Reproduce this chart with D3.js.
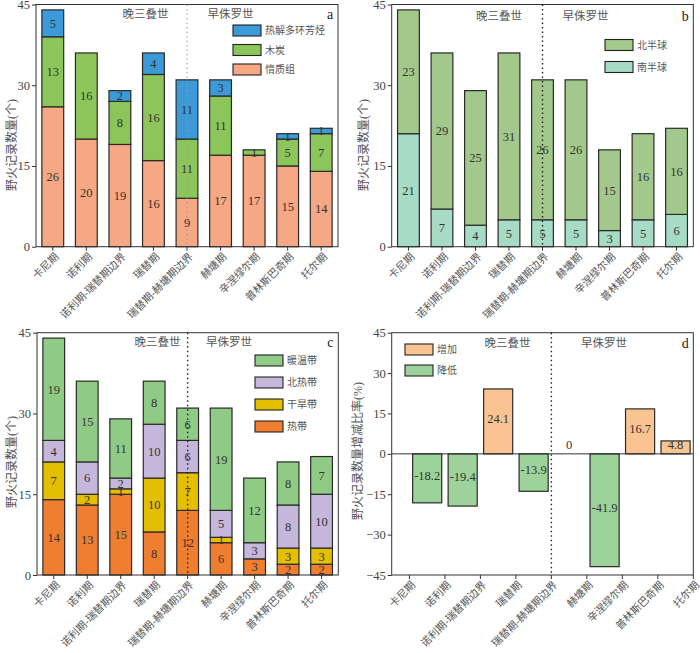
<!DOCTYPE html>
<html><head><meta charset="utf-8">
<script src="https://cdn.jsdelivr.net/npm/d3@7"></script>
<style>body{margin:0;background:#fff} svg{display:block}</style>
</head><body><svg id="chart" width="700" height="653"></svg>
<script>
// ---------- data ----------
const stages = ["卡尼期","诺利期","诺利期-瑞替期边界","瑞替期","瑞替期-赫塘期边界","赫塘期","辛涅缪尔期","普林斯巴奇期","托尔期"];
const eraLabels = ["晚三叠世","早侏罗世"];
const countTicks = [0,15,30,45];
const rateTicks = [-45,-30,-15,0,15,30,45];
const countTitle = "野火记录数量(个)";
const rateTitle = "野火记录数量增减比率(%)";

// panel a
const aSeries = ["惰质组","木炭","热解多环芳烃"];
const aInertinite = [26,20,19,16,9,17,17,15,14];
const aCharcoal   = [13,16,8,16,11,11,1,5,7];
const aPAH        = [5,0,2,4,11,3,0,1,1];
// panel b
const bSeries = ["南半球","北半球"];
const bSouth = [21,7,4,5,5,5,3,5,6];
const bNorth = [23,29,25,31,26,26,15,16,16];
// panel c
const cSeries = ["热带","干旱带","北热带","暖温带"];
const cTropical  = [14,13,15,8,12,6,3,2,2];
const cArid      = [7,2,1,10,7,1,0,3,3];
const cNTropical = [4,6,2,10,6,5,3,8,10];
const cWarm      = [19,15,11,8,6,19,12,8,7];
// panel d
const dSeries = ["增加","降低"];
const dChange = [-18.2,-19.4,24.1,-13.9,0,-41.9,16.7,4.8];

// ---------- style ----------
const NUM = "'Liberation Serif','Times New Roman',serif";
const CJK = "'Liberation Serif','Noto Sans CJK SC',serif";
const AX = "#333";
const TXT = "#555";

const svg = d3.select("#chart");

function frameAndY(g, box, y, ticks, title, titleX, titleY) {
  g.append("rect").attr("x", box.l).attr("y", box.t).attr("width", box.r - box.l).attr("height", box.b - box.t)
    .attr("fill", "none").attr("stroke", AX).attr("stroke-width", 1);
  const ya = g.append("g").attr("transform", `translate(${box.l},0)`)
    .call(d3.axisLeft(y).tickValues(ticks).tickSize(4).tickPadding(2));
  ya.select(".domain").remove();
  ya.selectAll("line").attr("stroke", AX);
  ya.selectAll("text").attr("font-family", NUM).attr("font-size", 12.5).attr("fill", "#444");
  g.append("text").attr("transform", `translate(${titleX},${titleY}) rotate(-90)`)
    .attr("text-anchor", "middle").attr("dy", "0.35em")
    .attr("font-family", CJK).attr("font-size", 12).attr("fill", TXT).text(title);
}

function xLabels(g, box, xpos) {
  stages.forEach((s, i) => {
    const x = xpos(i);
    g.append("line").attr("x1", x).attr("x2", x).attr("y1", box.b).attr("y2", box.b + 4).attr("stroke", AX);
    g.append("text").attr("transform", `translate(${x + 4},${box.b + 8}) rotate(-45)`)
      .attr("text-anchor", "end").attr("dy", "0.35em")
      .attr("font-family", CJK).attr("font-size", 10.5).attr("fill", TXT).text(s);
  });
}

function eras(g, box, divX, lx, rx, ey, letter, dotColor, dotW) {
  g.append("line").attr("x1", divX).attr("x2", divX).attr("y1", box.t).attr("y2", box.b)
    .attr("stroke", dotColor).attr("stroke-width", dotW).attr("stroke-dasharray", "1.5,3");
  g.append("text").attr("x", lx).attr("y", ey).attr("dy", "0.35em").attr("text-anchor", "middle")
    .attr("font-family", CJK).attr("font-size", 11.5).attr("fill", TXT).text(eraLabels[0]);
  g.append("text").attr("x", rx).attr("y", ey).attr("dy", "0.35em").attr("text-anchor", "middle")
    .attr("font-family", CJK).attr("font-size", 11.5).attr("fill", TXT).text(eraLabels[1]);
  g.append("text").attr("x", box.r - 8).attr("y", ey).attr("dy", "0.35em").attr("text-anchor", "middle")
    .attr("font-family", NUM).attr("font-size", 14).attr("fill", "#222").text(letter);
}

function legend(g, x, y0, gap, items) {
  items.forEach((it, i) => {
    const y = y0 + i * gap;
    g.append("rect").attr("x", x).attr("y", y).attr("width", 28).attr("height", 11)
      .attr("fill", it.color).attr("stroke", "#222").attr("stroke-width", 1.1);
    g.append("text").attr("x", x + 32).attr("y", y + 5.5).attr("dy", "0.35em")
      .attr("font-family", CJK).attr("font-size", 10).attr("fill", TXT).text(it.name);
  });
}

function stackPanel(box, keys, arrays, colors, legendCfg, eraCfg, titleX, titleY) {
  const g = svg.append("g");
  const rows = stages.map((s, i) => {
    const o = { stage: s };
    keys.forEach((k, j) => o[k] = arrays[j][i]);
    return o;
  });
  const x = d3.scaleBand().domain(stages).range([box.l, box.r]).paddingInner(0.35).paddingOuter(0.175);
  const y = d3.scaleLinear().domain([0, 45]).range([box.b, box.t]);
  const series = d3.stack().keys(keys)(rows);
  series.forEach((ser, j) => {
    ser.forEach(d => {
      const v = d[1] - d[0];
      if (v <= 0) return;
      g.append("rect").attr("x", x(d.data.stage)).attr("width", x.bandwidth())
        .attr("y", y(d[1])).attr("height", y(d[0]) - y(d[1]))
        .attr("fill", colors[j]).attr("stroke", "#2a2a2a").attr("stroke-width", 1.2);
    });
  });
  series.forEach((ser, j) => {
    ser.forEach(d => {
      const v = d[1] - d[0];
      if (v <= 0) return;
      g.append("text").attr("x", x(d.data.stage) + x.bandwidth() / 2).attr("y", y((d[0] + d[1]) / 2))
        .attr("dy", "0.35em").attr("text-anchor", "middle")
        .attr("font-family", NUM).attr("font-size", 12.5).attr("fill", "#333").text(v);
    });
  });
  frameAndY(g, box, y, countTicks, countTitle, titleX, titleY);
  const xc = i => x(stages[i]) + x.bandwidth() / 2;
  xLabels(g, box, xc);
  eras(g, box, xc(4), eraCfg.lx, eraCfg.rx, eraCfg.ey, eraCfg.letter, eraCfg.dot, eraCfg.dotW);
  legend(g, legendCfg.x, legendCfg.y, legendCfg.gap,
    keys.map((k, j) => ({ name: k, color: colors[j] })).reverse());
}

// panel a
stackPanel({ l: 36, r: 338, t: 4.5, b: 246.7 }, aSeries, [aInertinite, aCharcoal, aPAH],
  ["#f5a883", "#8cc65a", "#3d9ad8"],
  { x: 233, y: 25, gap: 19.5 },
  { lx: 145.5, rx: 230.5, ey: 14, letter: "a", dot: "#999", dotW: 1 }, 12, 145);

// panel b
stackPanel({ l: 391.7, r: 693.3, t: 4.5, b: 246.7 }, bSeries, [bSouth, bNorth],
  ["#a6dbc6", "#a2c98b"],
  { x: 605, y: 39.5, gap: 22 },
  { lx: 499, rx: 585.5, ey: 16, letter: "b", dot: "#222", dotW: 1.4 }, 364, 145);

// panel c
stackPanel({ l: 37, r: 338.3, t: 332.7, b: 575 }, cSeries, [cTropical, cArid, cNTropical, cWarm],
  ["#f07e31", "#e3bf00", "#c5b6db", "#8fcb84"],
  { x: 255, y: 355, gap: 22 },
  { lx: 157.5, rx: 229, ey: 342, letter: "c", dot: "#222", dotW: 1.4 }, 12, 462);

// panel d
(function () {
  const box = { l: 391.7, r: 693.3, t: 332.7, b: 575 };
  const g = svg.append("g");
  const x = d3.scaleLinear().domain([-0.5, 8]).range([box.l, box.r]);
  const y = d3.scaleLinear().domain([-45, 45]).range([box.b, box.t]);
  const step = x(1) - x(0);
  const colors = ["#f9c491", "#9dd39a"];
  dChange.forEach((v, i) => {
    const cx = x(i + 0.5);
    if (v !== 0) {
      g.append("rect").attr("x", cx - step * 0.41).attr("width", step * 0.82)
        .attr("y", y(Math.max(v, 0))).attr("height", Math.abs(y(v) - y(0)))
        .attr("fill", v > 0 ? colors[0] : colors[1]).attr("stroke", "#2a2a2a").attr("stroke-width", 1.2);
    }
  });
  g.append("line").attr("x1", box.l).attr("x2", box.r).attr("y1", y(0)).attr("y2", y(0))
    .attr("stroke", AX).attr("stroke-width", 1);
  dChange.forEach((v, i) => {
    const cx = x(i + 0.5);
    const ty = v === 0 ? y(0) - 9 : y(v / 2) - 3;
    g.append("text").attr("x", cx).attr("y", ty).attr("dy", "0.35em").attr("text-anchor", "middle")
      .attr("font-family", NUM).attr("font-size", 12.5).attr("fill", "#333").text(v);
  });
  frameAndY(g, box, y, rateTicks, rateTitle, 358, 451);
  xLabels(g, box, i => x(i));
  eras(g, box, x(4), 507.5, 604, 343, "d", "#222", 1.4);
  legend(g, 405, 344, 21, dSeries.map((k, j) => ({ name: k, color: colors[j] })));
})();
</script>
</body></html>
